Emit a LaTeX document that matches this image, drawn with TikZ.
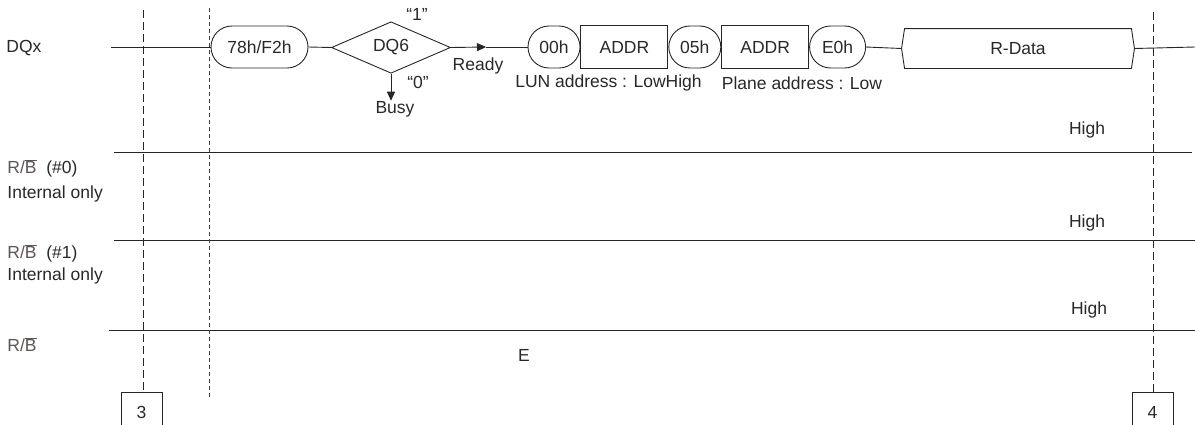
\documentclass[tikz,border=0pt]{standalone}
\usepackage{fontspec}
\setmainfont{Liberation Sans}
\usetikzlibrary{positioning,shapes.misc,shapes.geometric,arrows.meta}
\definecolor{txtgray}{RGB}{40,40,40}
\definecolor{rbgray}{RGB}{95,85,85}

\tikzstyle{cmd} = [draw, rounded rectangle, minimum width=56pt, minimum height=42pt, inner sep=2pt]
\tikzstyle{addr} = [draw, rectangle, minimum width=87pt, minimum height=43pt]
\tikzstyle{dec} = [draw, diamond, minimum width=119pt, minimum height=50pt, inner sep=0pt]
\tikzstyle{numbox} = [draw, minimum width=41pt, minimum height=41pt, inner sep=0pt]
\tikzstyle{lbl} = [inner sep=0pt]
\tikzstyle{sig} = [anchor=west, inner sep=0pt]
\tikzstyle{cut} = [dash pattern=on 8pt off 4pt]
\tikzstyle{cutfine} = [dash pattern=on 4pt off 3pt, black!75]

\newcommand{\rbsig}{\textcolor{rbgray}{R/$\overline{\hbox{B}}$}}

\begin{document}
\begin{tikzpicture}[x=1pt, y=-1pt, line width=0.9pt, draw=black!85, text=txtgray,
    font=\fontsize{17.5}{20}\selectfont, >={Triangle[length=9pt,width=8pt]}]
\useasboundingbox (0,0) rectangle (1195,424);
\clip (0,0) rectangle (1195,424);

% DQx bus
\node[sig] (dqx) at (6,48) {DQx};
\node[cmd, minimum width=101pt] (n78) at (259.5,47) {78h/F2h};
\node[dec] (dq6) at (391,47.5) {DQ6};
\node[cmd] (n00) at (554,47) {00h};
\node[addr, right=0pt of n00] (a1) {ADDR};
\node[cmd, right=0pt of a1] (n05) {05h};
\node[addr, right=0pt of n05] (a2) {ADDR};
\node[cmd, minimum width=60pt, right=0pt of a2] (ne0) {E0h};
\node[lbl, minimum width=232pt, minimum height=39pt] (rd) at (1018,48.5) {R-Data};
\draw (rd.west) -- ([xshift=3pt]rd.north west) -- ([xshift=-3pt]rd.north east) -- (rd.east)
    -- ([xshift=-3pt]rd.south east) -- ([xshift=3pt]rd.south west) -- cycle;

\coordinate (dqin) at (111,47);
\coordinate (dqout) at (1195,47);
\coordinate (rdy) at (486,47);
\draw (dqin) -- (n78.west);
\draw (n78.east) -- (dq6.west);
\draw[->] (dq6.east) -- (rdy);
\draw (rdy) -- (n00.west);
\draw (ne0.east) -- (rd.west);
\draw (rd.east) -- (dqout);

\node[lbl] (q1) at (417,14) {“1”};
\node[lbl] (q0) at (418,82) {“0”};
\node[lbl] (busy) at (395,109) {Busy};
\draw[->] (dq6.south) -- (dq6.south |- busy.north);
\node[lbl] (ready) at (478,66) {Ready};
\node[lbl] (lun) at (608.5,83) {LUN address : LowHigh};
\node[lbl] (plane) at (802,83) {Plane address : Low};

% R/B lines
\coordinate (r0a) at (114,152.7);
\coordinate (r0b) at (1192,152.7);
\coordinate (r1a) at (114,240.7);
\coordinate (r1b) at (1195,240.7);
\coordinate (rba) at (109,330.7);
\coordinate (rbb) at (1195,330.7);
\draw (r0a) -- (r0b);
\draw (r1a) -- (r1b);
\draw (rba) -- (rbb);

\node[sig] (l0) at (7,168) {\rbsig\ \ (\#0)};
\node[sig] (l0i) at (7,194) {Internal only};
\node[sig] (l1) at (7,253) {\rbsig\ \ (\#1)};
\node[sig] (l1i) at (7,276) {Internal only};
\node[sig] (lrb) at (7,345) {\rbsig};

\node[lbl] (h0) at (1087,130) {High};
\node[lbl] (h1) at (1087,223) {High};
\node[lbl] (h2) at (1089,310) {High};
\node[lbl] (e) at (524,355) {E};

% markers
\node[numbox] (b3) at (141.5,412.5) {3};
\node[numbox] (b4) at (1152.5,412.5) {4};
\coordinate (t3) at (143.5,10);
\coordinate (t4) at (1153,12);
\coordinate (ta) at (209,8);
\coordinate (tb) at (209,397);
\draw[cut] (t3) -- (t3 |- b3.north);
\draw[cut] (t4) -- (t4 |- b4.north);
\draw[cutfine] (ta) -- (tb);
\end{tikzpicture}
\end{document}
